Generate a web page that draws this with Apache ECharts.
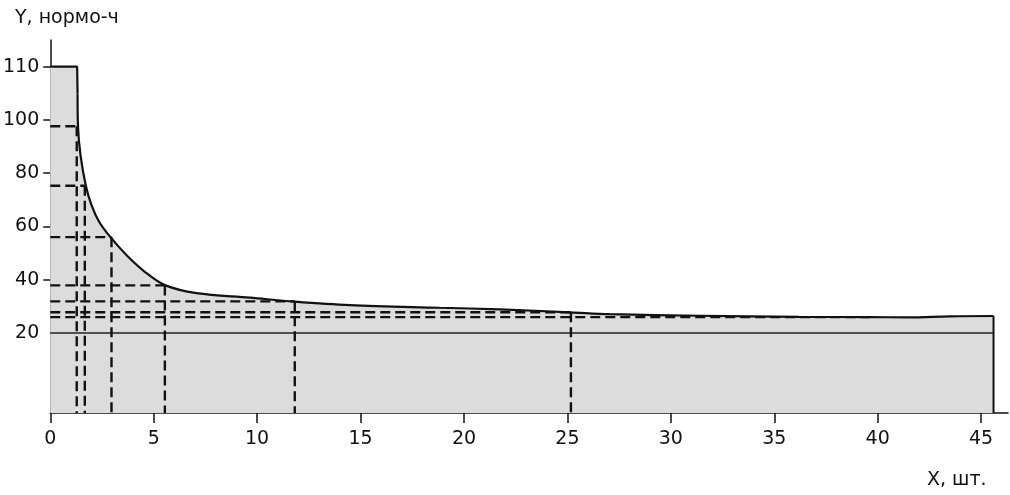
<!DOCTYPE html>
<html>
<head>
<meta charset="utf-8">
<script src="https://cdn.jsdelivr.net/npm/echarts@6/dist/echarts.min.js"></script>
<style>
    html, body { margin: 0; padding: 0; background: #fff; }
    #chart { width: 1010px; height: 495px; }
</style>
</head>
<body>
<div id="chart"></div>
<script>
// полка в начале (X, шт. -> Y, нормо-ч)
var shelfX = [0, 1.30, 1.32];
var shelfY = [110, 110, 105];

// кривая трудоёмкости
var curveX = [1.32, 1.34, 1.46, 1.72, 1.99, 2.36, 2.91, 3.68, 4.57, 5.54, 7.07, 9.65, 11.82, 14.48, 18.83, 21.73, 25.12, 27.05, 31.4, 36.2, 39.6, 41.5, 43.5, 45.6];
var curveY = [105, 97.6, 86.9, 75.3, 68.1, 61.8, 56.0, 49.3, 43.0, 38.0, 35.0, 33.3, 31.8, 30.5, 29.5, 28.9, 27.8, 27.1, 26.5, 26.1, 26.0, 25.9, 26.3, 26.4];

// пунктирные проекции
var guideX = [1.28, 1.67, 2.96, 5.54, 11.82, 25.17, 39.6];
var guideY = [97.6, 75.3, 56.0, 37.9, 31.9, 27.8, 26.0];
var guideDrop = [true, true, true, true, true, true, false];

var baseLevel = 20;
var xEnd = 45.6;

var xTicks = [0, 5, 10, 15, 20, 25, 30, 35, 40, 45];
var yLabels = [20, 40, 60, 80, 100, 110];
var yTicks = [40, 60, 80, 100, 110];

// на оригинале шкала выше 100 растянута вдвое
function toAxis(v) { return v > 100 ? 100 + (v - 100) * 2 : v; }
function fromAxis(v) { return v > 100 ? 100 + (v - 100) / 2 : v; }

var yMin = -10;
var font = 'DejaVu Sans, sans-serif';
var fill = '#dcdcdc';
var ink = '#111';

var series = [];

series.push({
    type: 'line',
    data: shelfX.map(function (x, i) { return [x, toAxis(shelfY[i])]; }),
    symbol: 'none',
    lineStyle: { color: ink, width: 2.2 },
    areaStyle: { color: fill, opacity: 1, origin: 'start' },
    z: 3
});

series.push({
    type: 'line',
    data: curveX.map(function (x, i) { return [x, toAxis(curveY[i])]; }),
    symbol: 'none',
    smooth: 0.35,
    lineStyle: { color: ink, width: 2.2 },
    areaStyle: { color: fill, opacity: 1, origin: 'start' },
    z: 3
});

// правый край
series.push({
    type: 'line',
    data: [[xEnd, toAxis(curveY[curveY.length - 1])], [xEnd, yMin]],
    symbol: 'none',
    lineStyle: { color: ink, width: 2 },
    z: 4
});

series.push({
    type: 'line',
    data: [[0, baseLevel], [xEnd, baseLevel]],
    symbol: 'none',
    lineStyle: { color: '#222', width: 1.5 },
    z: 4
});

guideX.forEach(function (x, i) {
    var y = toAxis(guideY[i]);
    var dash = { color: ink, width: 2.4, type: [10, 5], cap: 'butt' };
    series.push({
        type: 'line',
        data: [[0, y], [x, y]],
        symbol: 'none',
        lineStyle: dash,
        z: 5
    });
    if (guideDrop[i]) {
        series.push({
            type: 'line',
            data: [[x, y], [x, yMin]],
            symbol: 'none',
            lineStyle: dash,
            z: 5
        });
    }
});

var chart = echarts.init(document.getElementById('chart'));
chart.setOption({
    animation: false,
    grid: { left: 50, right: 2, top: 40, bottom: 82, containLabel: false },
    xAxis: {
        type: 'value',
        min: 0,
        max: 46.3,
        interval: 5,
        splitLine: { show: false },
        axisLine: { onZero: false, lineStyle: { color: ink, width: 1.5 } },
        axisTick: { length: 10, lineStyle: { color: ink, width: 1.5 }, customValues: xTicks },
        axisLabel: { color: ink, fontFamily: font, fontSize: 19, margin: 17, customValues: xTicks }
    },
    yAxis: {
        type: 'value',
        min: yMin,
        max: 130,
        interval: 10,
        splitLine: { show: false },
        axisLine: { show: true, onZero: false, lineStyle: { color: ink, width: 1.5 } },
        axisTick: {
            show: true, length: 7,
            lineStyle: { color: ink, width: 1.5 },
            customValues: yTicks.map(toAxis)
        },
        axisLabel: {
            color: ink, fontFamily: font, fontSize: 19, margin: 11,
            customValues: yLabels.map(toAxis),
            formatter: function (v) { return String(fromAxis(v)); }
        }
    },
    graphic: [
        { type: 'text', left: 15, top: 9, style: { text: 'Y, нормо-ч', fill: ink, font: '19px ' + font } },
        { type: 'text', left: 927, top: 471, style: { text: 'X, шт.', fill: ink, font: '19px ' + font } }
    ],
    series: series
});
</script>
</body>
</html>
